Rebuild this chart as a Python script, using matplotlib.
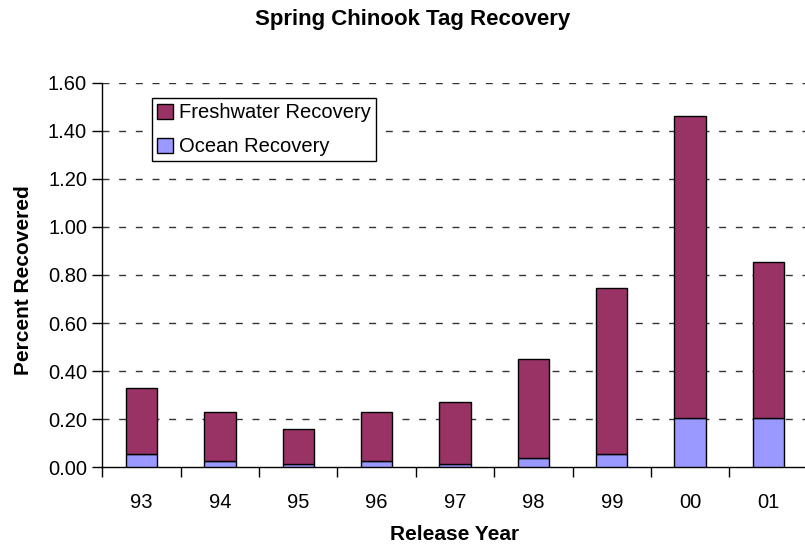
import matplotlib
matplotlib.use("Agg")
import matplotlib.pyplot as plt
from matplotlib.patches import Patch
import numpy as np

years = ["93", "94", "95", "96", "97", "98", "99", "00", "01"]
ocean = [0.055, 0.026, 0.015, 0.026, 0.015, 0.040, 0.055, 0.206, 0.206]
freshwater = [0.274, 0.205, 0.146, 0.205, 0.257, 0.412, 0.692, 1.254, 0.647]
yticks = [0.0, 0.2, 0.4, 0.6, 0.8, 1.0, 1.2, 1.4, 1.6]

plt.rcParams['font.family'] = ['Liberation Sans', 'DejaVu Sans']

W, H = 805, 548
fig = plt.figure(figsize=(W / 100, H / 100), dpi=100)
ax_l, ax_b, ax_w, ax_h = 102.3, 467.3, 705.4, 384.6
ax = fig.add_axes([ax_l / W, 1 - ax_b / H, ax_w / W, ax_h / H])

x = np.arange(len(years))
c_fresh = '#993366'
c_ocean = '#9999FF'
ax.bar(x, ocean, width=0.4, color=c_ocean, edgecolor='black', linewidth=1.0, zorder=3)
ax.bar(x, freshwater, width=0.4, bottom=ocean, color=c_fresh, edgecolor='black', linewidth=1.0, zorder=3)

ax.set_xlim(-0.5, len(years) - 0.5)
ax.set_ylim(0, 1.6)
ax.set_yticks(yticks)
ax.set_yticklabels([f"{v:.2f}" for v in yticks], fontsize=14.5)
ax.set_xticks(x)
ax.set_xticklabels(years, fontsize=14.5)
ax.set_xticks(np.arange(len(years) + 1) - 0.5, minor=True)
ax.tick_params(axis='x', which='major', length=0, pad=18.5)
ax.tick_params(axis='x', which='minor', length=7, direction='out', width=1)
ax.tick_params(axis='y', which='major', length=7, direction='out', width=1, pad=4)

for v in yticks[1:]:
    ax.axhline(v, color='#333333', linestyle=(0, (5, 7)), linewidth=1.0, zorder=1)

for s in ['top', 'right']:
    ax.spines[s].set_visible(False)
ax.spines['left'].set_linewidth(1.0)
ax.spines['bottom'].set_linewidth(1.0)

ax.set_ylabel("Percent Recovered", fontsize=15, fontweight='bold', va='center')
ax.yaxis.set_label_coords((23.3 - ax_l) / ax_w, (ax_b - 280) / ax_h)
ax.set_xlabel("Release Year", fontsize=15, fontweight='bold', va='center')
ax.xaxis.set_label_coords((455 - ax_l) / ax_w, (ax_b - 535) / ax_h)
fig.text(413 / W, 1 - 20 / H, "Spring Chinook Tag Recovery", fontsize=16,
         fontweight='bold', ha='center', va='center')

handles = [Patch(facecolor=c_fresh, edgecolor='black', label='Freshwater Recovery'),
           Patch(facecolor=c_ocean, edgecolor='black', label='Ocean Recovery')]
leg = ax.legend(handles=handles, loc='upper left',
                bbox_to_anchor=((151.7 - ax_l) / ax_w, (ax_b - 98.3) / ax_h),
                fontsize=14.5, frameon=True, fancybox=False, edgecolor='black', framealpha=1,
                handlelength=0.8, handleheight=0.8, handletextpad=0.33, borderpad=0.25,
                labelspacing=0.75, borderaxespad=0)
leg.get_frame().set_linewidth(1.0)

fig.savefig("out.png", dpi=100)
